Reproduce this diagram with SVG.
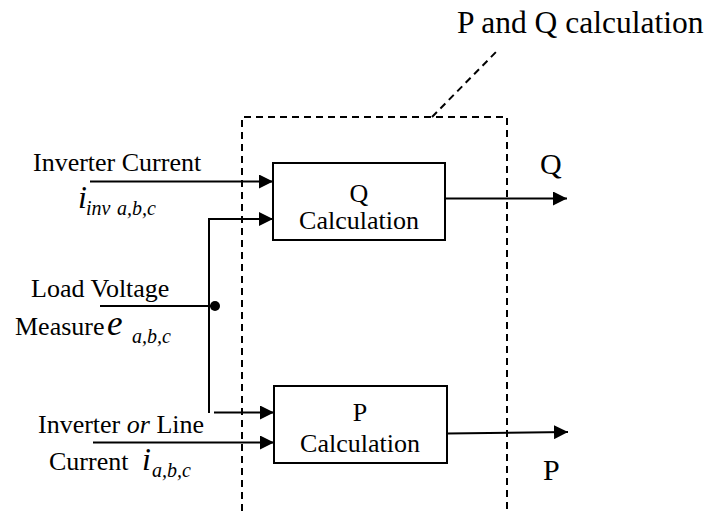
<svg xmlns="http://www.w3.org/2000/svg" width="713" height="511" viewBox="0 0 713 511">
<style>
text{font-family:"Liberation Serif","Times New Roman",serif;fill:#000}
.lbl{font-size:26px}
.out{font-size:30px}
.ttl{font-size:31.5px}
.it{font-style:italic}
.sub{font-size:20px;font-style:italic}
.box{fill:#fff;stroke:#000;stroke-width:2}
.ln{fill:none;stroke:#000;stroke-width:2}
.dash{fill:none;stroke:#000;stroke-width:2;stroke-dasharray:7 5}
</style>
<defs>
<marker id="ah" viewBox="0 0 14 14" refX="14" refY="7" markerWidth="14" markerHeight="14" markerUnits="userSpaceOnUse" orient="auto">
<path d="M0,0 L14,7 L0,14 Z" fill="#000"/>
</marker>
</defs>
<rect width="713" height="511" fill="#fff"/>
<g id="boundary">
<path class="dash" d="M242,511 V117 H507 V511"/>
<path class="dash" d="M432,117 L497,51"/>
<text class="ttl" x="457" y="33">P and Q calculation</text>
</g>
<g id="connectors">
<path class="ln" d="M90,181.5 H273" marker-end="url(#ah)"/>
<path class="ln" d="M209,413 V219 H273" marker-end="url(#ah)"/>
<path class="ln" d="M100,306 H215"/>
<circle cx="215" cy="306" r="5" fill="#000"/>
<path class="ln" d="M214,412.5 H274" marker-end="url(#ah)"/>
<path class="ln" d="M93,442.5 H274" marker-end="url(#ah)"/>
<path class="ln" d="M445,198.5 H567" marker-end="url(#ah)"/>
<path class="ln" d="M447,433.5 L568,432" marker-end="url(#ah)"/>
</g>
<g id="q-calc">
<rect class="box" x="273" y="163" width="172" height="77"/>
<text class="lbl" x="359" y="202" text-anchor="middle">Q</text>
<text class="lbl" x="359" y="229" text-anchor="middle">Calculation</text>
</g>
<g id="p-calc">
<rect class="box" x="274" y="386" width="173" height="77"/>
<text class="lbl" x="360" y="421" text-anchor="middle">P</text>
<text class="lbl" x="360" y="452" text-anchor="middle">Calculation</text>
</g>
<g id="in-inverter">
<text class="lbl" x="33" y="171">Inverter Current</text>
<text class="it" x="78" y="208" font-size="32">i</text>
<text class="sub" x="86" y="215">inv</text>
<text class="sub" x="117" y="215">a,b,c</text>
</g>
<g id="in-voltage">
<text class="lbl" x="31" y="297">Load Voltage</text>
<text class="lbl" x="15" y="335">Measure</text>
<text class="it" x="107" y="335" font-size="35">e</text>
<text class="sub" x="132" y="343">a,b,c</text>
</g>
<g id="in-line">
<text class="lbl" x="38" y="433">Inverter <tspan class="it">or</tspan> Line</text>
<text class="lbl" x="49" y="470">Current</text>
<text class="it" x="142" y="470" font-size="32">i</text>
<text class="sub" x="152" y="477">a,b,c</text>
</g>
<g id="out-labels">
<text class="out" x="540" y="174">Q</text>
<text class="out" x="543" y="480">P</text>
</g>
</svg>
